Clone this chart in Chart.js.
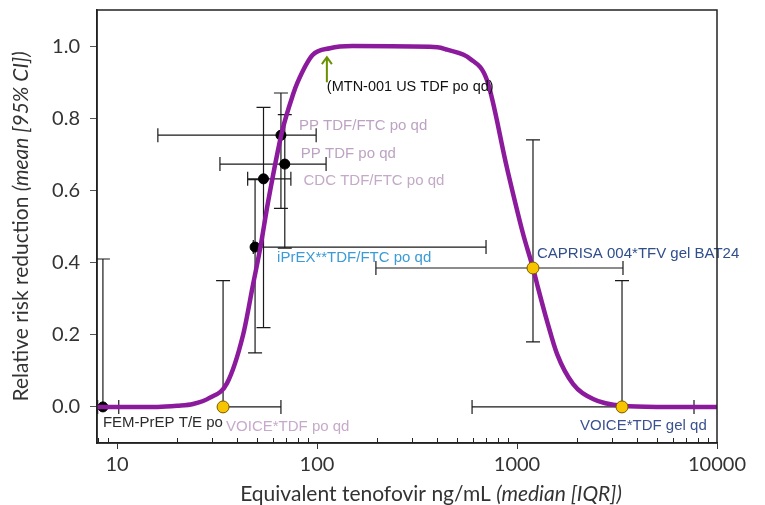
<!DOCTYPE html>
<html>
<head>
<meta charset="utf-8">
<script src="https://cdn.jsdelivr.net/npm/chart.js@4"></script>
<style>
html, body { margin: 0; padding: 0; background: #fff; }
</style>
</head>
<body>
<canvas id="riskChart" width="765" height="505"></canvas>
<script>
// fitted curve (drug level -> relative risk reduction)
const curveX = [7.9, 16, 20, 24, 29, 35.5, 42.7, 47.9, 52, 57, 67, 76, 80, 95, 116, 150, 400, 447, 582, 708, 891, 1072, 1202, 1274, 1413, 1585, 1905, 2400, 3350, 5000, 10000];
const curveY = [0, 0, 0.003, 0.008, 0.025, 0.066, 0.2, 0.34, 0.44, 0.57, 0.765, 0.867, 0.9, 0.975, 0.994, 1.0, 0.997, 0.99, 0.965, 0.905, 0.662, 0.48, 0.385, 0.33, 0.238, 0.147, 0.064, 0.022, 0.003, 0, 0];

// trials
const studyNames = ['FEM-PrEP T/E po', 'VOICE*TDF po qd', 'iPrEX**TDF/FTC po qd', 'CDC TDF/FTC po qd',
                    'PP TDF/FTC po qd', 'PP TDF po qd', 'CAPRISA 004*TFV gel BAT24', 'VOICE*TDF gel qd'];
const studyX     = [8.5, 33.9, 49, 54, 66, 69, 1202, 3350];
const studyXLow  = [8.0, 33.9, 48, 45, 16, 32.7, 197, 596];
const studyXHigh = [10.2, 66, 700, 74, 99, 111, 3388, 7674];
const studyY     = [0, 0, 0.443, 0.632, 0.753, 0.673, 0.385, 0];
const studyYLow  = [0, 0, 0.15, 0.22, 0.55, 0.44, 0.18, 0];
const studyYHigh = [0.41, 0.35, 0.63, 0.83, 0.87, 0.81, 0.74, 0.35];
const studyGel   = [false, true, false, false, false, false, true, true]; // yellow markers

const mtnX = 112, mtnY = 0.972;
const mtnLabel = '(MTN-001 US TDF po qd)';

const xTickValues = [10, 100, 1000, 10000];
const xTickLabels = ['10', '100', '1000', '10000'];
const yTickValues = [0, 0.2, 0.4, 0.6, 0.8, 1.0];

// label styling
const labelOffsets = [[0, 16], [3, 20], [22, 11], [40, 2], [18, -9], [16, -10], [4, -14], [-42, 19]];
const labelColors = ['#2b2b2b', '#c7aacb', '#3b9bd6', '#c3aac6', '#bda3c3', '#bda3c3', '#2f4e8c', '#3b5190'];

const purple = '#8c1a9c';
const axisFont = 'Lato, "Open Sans", sans-serif';

const curveData = curveX.map((x, i) => ({ x: x, y: curveY[i] }));
const blackPts = studyX.map((x, i) => ({ x: x, y: studyY[i] }));
const gelPts = studyX.map((x, i) => ({ x: x, y: studyY[i] })).filter((p, i) => studyGel[i]);

const minorTicks = [];
[1, 10, 100, 1000].forEach(d => { for (let k = 2; k <= 9; k++) minorTicks.push(d * k); });

const overlay = {
    id: 'overlay',
    beforeDatasetsDraw(chart) {
        const ctx = chart.ctx, xs = chart.scales.x, ys = chart.scales.y, a = chart.chartArea;
        ctx.save();
        ctx.beginPath();
        ctx.rect(a.left, a.top, a.right - a.left, a.bottom - a.top);
        ctx.clip();
        ctx.strokeStyle = '#1a1a1a';
        ctx.lineWidth = 1.2;
        const cap = 7;
        for (let i = 0; i < studyX.length; i++) {
            const px = xs.getPixelForValue(studyX[i]);
            const py = ys.getPixelForValue(studyY[i]);
            const x0 = xs.getPixelForValue(studyXLow[i]);
            const x1 = xs.getPixelForValue(studyXHigh[i]);
            const y0 = ys.getPixelForValue(studyYLow[i]);
            const y1 = ys.getPixelForValue(studyYHigh[i]);
            ctx.beginPath();
            ctx.moveTo(x0, py); ctx.lineTo(x1, py);
            ctx.moveTo(px, y0); ctx.lineTo(px, y1);
            if (studyXLow[i] < studyX[i]) { ctx.moveTo(x0, py - cap); ctx.lineTo(x0, py + cap); }
            if (studyXHigh[i] > studyX[i]) { ctx.moveTo(x1, py - cap); ctx.lineTo(x1, py + cap); }
            if (studyYLow[i] < studyY[i]) { ctx.moveTo(px - cap, y0); ctx.lineTo(px + cap, y0); }
            if (studyYHigh[i] > studyY[i]) { ctx.moveTo(px - cap, y1); ctx.lineTo(px + cap, y1); }
            ctx.stroke();
        }
        ctx.restore();
    },
    afterDatasetsDraw(chart) {
        const ctx = chart.ctx, xs = chart.scales.x, ys = chart.scales.y;
        ctx.save();
        ctx.font = '15px "Liberation Sans", Arial, sans-serif';
        ctx.textBaseline = 'middle';
        ctx.textAlign = 'left';
        studyNames.forEach((name, i) => {
            ctx.fillStyle = labelColors[i];
            ctx.fillText(name,
                xs.getPixelForValue(studyX[i]) + labelOffsets[i][0],
                ys.getPixelForValue(studyY[i]) + labelOffsets[i][1]);
        });
        // MTN-001 arrow
        const ax = xs.getPixelForValue(mtnX), ay = ys.getPixelForValue(mtnY);
        ctx.strokeStyle = '#6a9000';
        ctx.lineWidth = 2;
        ctx.beginPath();
        ctx.moveTo(ax, ay + 1); ctx.lineTo(ax, ay + 26);
        ctx.moveTo(ax - 5, ay + 8); ctx.lineTo(ax, ay + 1); ctx.lineTo(ax + 5, ay + 8);
        ctx.stroke();
        ctx.fillStyle = '#111';
        ctx.font = '14.5px "Liberation Sans", Arial, sans-serif';
        ctx.fillText(mtnLabel, ax, ay + 31);
        ctx.restore();
    },
    afterDraw(chart) {
        const ctx = chart.ctx, xs = chart.scales.x, a = chart.chartArea;
        ctx.save();
        ctx.strokeStyle = '#222';
        ctx.lineWidth = 1.5;
        ctx.strokeRect(a.left, a.top, a.right - a.left, a.bottom - a.top);
        ctx.lineWidth = 1;
        ctx.beginPath();
        minorTicks.forEach(v => {
            const px = Math.round(xs.getPixelForValue(v)) + 0.5;
            if (px > a.left + 1 && px < a.right - 1) {
                ctx.moveTo(px, a.bottom); ctx.lineTo(px, a.bottom - 5);
            }
        });
        ctx.stroke();

        // axis titles with italic tail
        ctx.fillStyle = '#333';
        ctx.textBaseline = 'middle';
        const drawMixed = (plain, ital, cx, cy) => {
            ctx.font = '21px ' + axisFont;
            const w1 = ctx.measureText(plain).width;
            ctx.font = 'italic 21px ' + axisFont;
            const w2 = ctx.measureText(ital).width;
            const start = cx - (w1 + w2) / 2;
            ctx.textAlign = 'left';
            ctx.font = '21px ' + axisFont;
            ctx.fillText(plain, start, cy);
            ctx.font = 'italic 21px ' + axisFont;
            ctx.fillText(ital, start + w1, cy);
        };
        drawMixed('Equivalent tenofovir ng/mL ', '(median [IQR])', 431, 494);
        ctx.translate(21, (a.top + a.bottom) / 2);
        ctx.rotate(-Math.PI / 2);
        drawMixed('Relative risk reduction ', '(mean [95% CI])', 0, 0);
        ctx.restore();
    }
};

const ctx = document.getElementById('riskChart').getContext('2d');
const riskChart = new Chart(ctx, {
    type: 'scatter',
    data: {
        datasets: [
            {
                label: 'gel / VOICE',
                data: gelPts,
                order: 0,
                pointRadius: 6,
                pointBackgroundColor: '#f7c400',
                pointBorderColor: '#7a5a00',
                pointBorderWidth: 1,
                showLine: false
            },
            {
                label: 'model',
                type: 'line',
                data: curveData,
                order: 1,
                borderColor: purple,
                borderWidth: 4.5,
                pointRadius: 0,
                fill: false,
                cubicInterpolationMode: 'monotone'
            },
            {
                label: 'trials',
                data: blackPts,
                order: 2,
                pointRadius: 5,
                pointBackgroundColor: '#000',
                pointBorderColor: '#000',
                showLine: false
            }
        ]
    },
    options: {
        responsive: false,
        animation: false,
        layout: { padding: { top: 10, right: 48, left: 0, bottom: 0 } },
        plugins: { legend: { display: false }, tooltip: { enabled: false } },
        scales: {
            x: {
                type: 'logarithmic',
                min: 7.94,
                max: 10000,
                afterBuildTicks: s => { s.ticks = xTickValues.map(v => ({ value: v })); },
                afterFit: s => { s.height = 62; s.paddingLeft = 0; s.paddingRight = 0; },
                ticks: {
                    autoSkip: false,
                    maxRotation: 0,
                    padding: 4,
                    color: '#333',
                    font: { family: axisFont, size: 20 },
                    callback: (v, i) => xTickLabels[i]
                },
                grid: { drawOnChartArea: false, tickLength: 6, color: '#333' },
                border: { color: '#222', width: 1.5 }
            },
            y: {
                type: 'linear',
                min: -0.1,
                max: 1.1,
                afterBuildTicks: s => { s.ticks = yTickValues.map(v => ({ value: v })); },
                afterFit: s => { s.width = 97; s.paddingTop = 0; s.paddingBottom = 0; },
                ticks: {
                    padding: 10,
                    color: '#333',
                    font: { family: axisFont, size: 20 },
                    callback: v => v.toFixed(1)
                },
                grid: { drawOnChartArea: false, tickLength: 7, color: '#555' },
                border: { color: '#222', width: 1.5 }
            }
        }
    },
    plugins: [overlay]
});
</script>
</body>
</html>
